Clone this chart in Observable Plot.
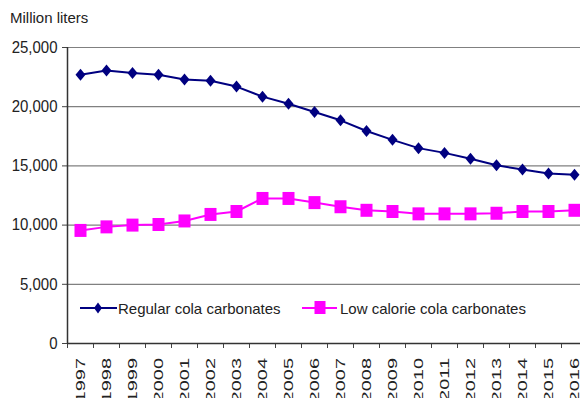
<!DOCTYPE html>
<html>
<head>
<meta charset="utf-8">
<script src="https://cdn.jsdelivr.net/npm/d3@7"></script>
<script src="https://cdn.jsdelivr.net/npm/@observablehq/plot@0.6"></script>
<style>
  html, body { margin: 0; padding: 0; background: #fff; }
  #wrap { position: relative; width: 580px; height: 398px; overflow: hidden;
          font-family: "Liberation Sans", Arial, sans-serif; color: #222; }
  #unit { position: absolute; left: 10px; top: 9px; font-size: 15px; line-height: 18px; }
  #legend { position: absolute; left: 0; top: 0; pointer-events: none; }
  svg text { font-family: "Liberation Sans", Arial, sans-serif; }
</style>
</head>
<body>
<div id="wrap">
  <div id="unit">Million liters</div>
</div>
<script>
// Annual volumes, million liters
const years = [1997, 1998, 1999, 2000, 2001, 2002, 2003, 2004, 2005, 2006,
               2007, 2008, 2009, 2010, 2011, 2012, 2013, 2014, 2015, 2016];
const regular = [22700, 23050, 22850, 22700, 22300, 22200, 21700, 20850, 20250, 19550,
                 18850, 17950, 17200, 16500, 16100, 15600, 15050, 14700, 14350, 14250];
const lowCalorie = [9550, 9850, 10000, 10050, 10350, 10900, 11150, 12250, 12250, 11900,
                    11550, 11250, 11150, 10950, 10950, 10950, 11000, 11150, 11150, 11250];
const seriesNames = ["Regular cola carbonates", "Low calorie cola carbonates"];
const seriesColors = ["#000080", "#ff00ff"];
const yTicks = [0, 5000, 10000, 15000, 20000, 25000];

const rows = [
  ...years.map((year, i) => ({year, value: regular[i], series: seriesNames[0]})),
  ...years.map((year, i) => ({year, value: lowCalorie[i], series: seriesNames[1]}))
];
// category edges, where the tick marks of the year axis sit
const edges = [...years.map(y => y - 0.5), years[years.length - 1] + 0.5];

// marker shapes: a tall diamond and a square
const diamond = {draw(ctx) { ctx.moveTo(0, -6); ctx.lineTo(5, 0); ctx.lineTo(0, 6); ctx.lineTo(-5, 0); ctx.closePath(); }};
const square = {draw(ctx) { ctx.moveTo(-6, -6.5); ctx.lineTo(6, -6.5); ctx.lineTo(6, 6.5); ctx.lineTo(-6, 6.5); ctx.closePath(); }};

const chart = Plot.plot({
  width: 580,
  height: 398,
  marginLeft: 67,
  marginTop: 47,
  marginBottom: 55,
  marginRight: 0,
  style: {fontFamily: "'Liberation Sans', Arial, sans-serif", fontSize: "15px", color: "#222", background: "#fff"},
  x: {type: "linear", domain: [edges[0], edges[edges.length - 1]], range: [67, 587]},
  y: {domain: [0, 25000]},
  marks: [
    Plot.gridY(yTicks.filter(d => d > 0), {stroke: "#808080", strokeOpacity: 1, strokeWidth: 1.2}),
    Plot.axisY(yTicks, {tickFormat: d3.format(","), tickSize: 5, tickPadding: 5, label: null, stroke: "#444"}),
    Plot.axisX(years, {tickRotate: -90, tickSize: 0, tickPadding: 15, fontSize: 12.5,
      tickFormat: d => String(d), label: null}),
    Plot.axisX(edges, {tickSize: 5, tickFormat: () => "", label: null, stroke: "#444"}),
    Plot.ruleX([edges[0]], {stroke: "#333", strokeWidth: 1.5}),
    Plot.ruleY([0], {stroke: "#333", strokeWidth: 1.5}),
    Plot.line(rows, {x: "year", y: "value", z: "series",
      stroke: d => seriesColors[seriesNames.indexOf(d.series)], strokeWidth: 2}),
    Plot.dot(rows.filter(d => d.series === seriesNames[0]), {x: "year", y: "value",
      symbol: diamond, fill: seriesColors[0], stroke: "none"}),
    Plot.dot(rows.filter(d => d.series === seriesNames[1]), {x: "year", y: "value",
      symbol: square, fill: seriesColors[1], stroke: "none"})
  ]
});

// the year labels are set in a tall, narrow face: stretch them along their run;
// the value labels are slightly tall as well
const xs = chart.scale("x");
const axisLine = 343;
const labelTop = 358;
const yearLabels = [];
chart.querySelectorAll("text").forEach(t => {
  const tr = t.getAttribute("transform") || "";
  const s = t.textContent.trim();
  if (/^\d{4}$/.test(s) && tr.includes("rotate")) {
    const px = xs.apply(+s);
    ["x", "y", "dx"].forEach(a => t.removeAttribute(a));
    t.setAttribute("text-anchor", "end");
    t.setAttribute("dy", "0.32em");
    t.setAttribute("transform", `translate(${px},${axisLine}) rotate(-90) scale(1.6,1)`);
    yearLabels.push([t, px]);
  } else if (/^[\d,]+$/.test(s) && !tr.includes("rotate")) {
    t.setAttribute("transform", (tr ? tr + " " : "") + "scale(1,1.1)");
  }
});
document.getElementById("wrap").prepend(chart);

// set each year label so that its top end sits just under the axis ticks
const svgTop = chart.getBoundingClientRect().top;
yearLabels.forEach(([t, px]) => {
  const top = t.getBoundingClientRect().top - svgTop;
  const shift = labelTop - top;
  t.setAttribute("transform", `translate(${px},${axisLine + shift}) rotate(-90) scale(1.6,1)`);
});

// legend drawn inside the plot area
const legend = `
<svg id="legend" width="580" height="398" xmlns="http://www.w3.org/2000/svg">
  <g font-size="15" fill="#222">
    <line x1="80" x2="117" y1="308" y2="308" stroke="${seriesColors[0]}" stroke-width="2"/>
    <path d="M98,302.5 L102,308 L98,313.5 L94,308 Z" fill="${seriesColors[0]}"/>
    <text x="118" y="313.5">${seriesNames[0]}</text>
    <line x1="302" x2="337" y1="308" y2="308" stroke="${seriesColors[1]}" stroke-width="2"/>
    <rect x="314.5" y="301" width="11" height="13" fill="${seriesColors[1]}"/>
    <text x="340" y="313.5">${seriesNames[1]}</text>
  </g>
</svg>`;
document.getElementById("wrap").insertAdjacentHTML("beforeend", legend);
</script>
</body>
</html>
